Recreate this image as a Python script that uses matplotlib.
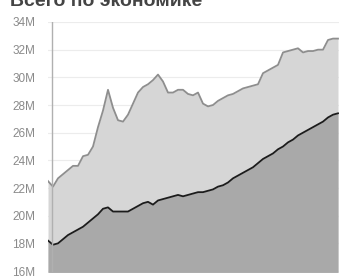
import numpy as np
import matplotlib
matplotlib.use("Agg")
import matplotlib.pyplot as plt

# monthly points, values in millions
total = [22.5, 22.1, 22.7, 23.0, 23.3, 23.6, 23.6, 24.3, 24.4, 25.0,
         26.4, 27.6, 29.1, 27.8, 26.9, 26.8, 27.3, 28.1, 28.9, 29.3,
         29.5, 29.8, 30.2, 29.7, 28.9, 28.9, 29.1, 29.1, 28.8, 28.7,
         28.9, 28.1, 27.9, 28.0, 28.3, 28.5, 28.7, 28.8, 29.0, 29.2,
         29.3, 29.4, 29.5, 30.3, 30.5, 30.7, 30.9, 31.8, 31.9, 32.0,
         32.1, 31.8, 31.9, 31.9, 32.0, 32.0, 32.7, 32.8, 32.8]
base = [18.2, 17.9, 18.0, 18.3, 18.6, 18.8, 19.0, 19.2, 19.5, 19.8,
        20.1, 20.5, 20.6, 20.3, 20.3, 20.3, 20.3, 20.5, 20.7, 20.9,
        21.0, 20.8, 21.1, 21.2, 21.3, 21.4, 21.5, 21.4, 21.5, 21.6,
        21.7, 21.7, 21.8, 21.9, 22.1, 22.2, 22.4, 22.7, 22.9, 23.1,
        23.3, 23.5, 23.8, 24.1, 24.3, 24.5, 24.8, 25.0, 25.3, 25.5,
        25.8, 26.0, 26.2, 26.4, 26.6, 26.8, 27.1, 27.3, 27.4]
y_ticks = [16, 18, 20, 22, 24, 26, 28, 30, 32, 34]
title = "Всего по экономике"

x = np.arange(len(total))

plt.rcParams['font.family'] = ['Liberation Sans', 'DejaVu Sans']
fig = plt.figure(figsize=(3.39, 2.80), dpi=100)
ax = fig.add_axes([48 / 339, 7.6 / 280, 291 / 339, 250.4 / 280])

ax.fill_between(x, 15.9, total, color='#d6d6d6', lw=0, zorder=2)
ax.plot(x, total, color='#8e8e8e', lw=1.3, zorder=3)
ax.fill_between(x, 15.9, base, color='#a9a9a9', lw=0, zorder=4)
ax.plot(x, base, color='#1c1c1c', lw=1.3, zorder=5)

ax.set_xlim(0, 58.2)
ax.set_ylim(15.9, 34)
ax.set_yticks(y_ticks)
ax.set_yticklabels([f"{v}M" for v in y_ticks])
ax.set_xticks([])
ax.grid(axis='y', color='#ececec', lw=0.8, zorder=1)
for s in ax.spines.values():
    s.set_visible(False)
ax.axvline(0.75, color='#b0b0b0', lw=1, zorder=6)
ax.tick_params(axis='y', length=0, pad=9, labelsize=8.5, labelcolor='#8a8a8a')

fig.text(10 / 339, 1 - 6 / 280, title, fontsize=14, color='#444444',
         fontweight='bold', va='baseline', ha='left')

fig.savefig("out.png", dpi=100)
